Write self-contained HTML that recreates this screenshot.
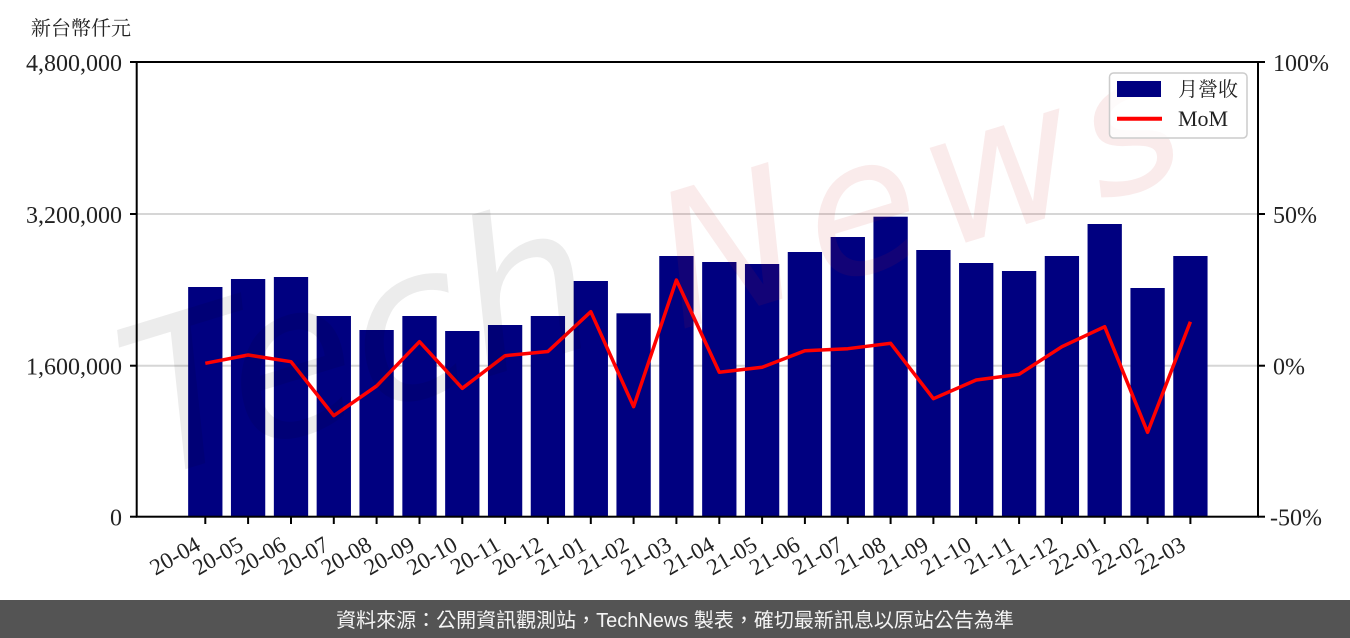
<!DOCTYPE html>
<html lang="zh-Hant"><head><meta charset="utf-8"><style>
html,body{margin:0;padding:0;background:#fff;}
svg{display:block;}
</style></head><body>
<svg width="1350" height="638" viewBox="0 0 1350 638" xmlns="http://www.w3.org/2000/svg" xml:lang="zh-Hant">
<rect x="0" y="0" width="1350" height="638" fill="#fff"/>
<!-- title -->
<text x="31" y="35" font-family="'Liberation Serif','Noto Serif CJK TC','Noto Serif CJK SC',serif" font-size="20" fill="#222">新台幣仟元</text>
<!-- grid -->
<line x1="137" y1="214" x2="1258" y2="214" stroke="#d6d6d6" stroke-width="2"/>
<line x1="137" y1="365.7" x2="1258" y2="365.7" stroke="#d6d6d6" stroke-width="2"/>
<!-- bars -->
<g fill="#000080">
<rect x="188.15" y="287" width="34.3" height="229.7"/>
<rect x="230.95" y="279" width="34.3" height="237.7"/>
<rect x="273.85" y="277" width="34.3" height="239.7"/>
<rect x="316.65" y="316" width="34.3" height="200.7"/>
<rect x="359.45" y="330" width="34.3" height="186.7"/>
<rect x="402.35" y="316" width="34.3" height="200.7"/>
<rect x="445.15" y="331" width="34.3" height="185.7"/>
<rect x="487.95" y="325" width="34.3" height="191.7"/>
<rect x="530.75" y="316" width="34.3" height="200.7"/>
<rect x="573.65" y="281" width="34.3" height="235.7"/>
<rect x="616.45" y="313.3" width="34.3" height="203.4"/>
<rect x="659.25" y="256" width="34.3" height="260.7"/>
<rect x="702.15" y="262" width="34.3" height="254.7"/>
<rect x="744.95" y="264" width="34.3" height="252.7"/>
<rect x="787.75" y="252" width="34.3" height="264.7"/>
<rect x="830.65" y="237" width="34.3" height="279.7"/>
<rect x="873.45" y="216.7" width="34.3" height="300"/>
<rect x="916.25" y="250" width="34.3" height="266.7"/>
<rect x="959.05" y="263" width="34.3" height="253.7"/>
<rect x="1001.95" y="271" width="34.3" height="245.7"/>
<rect x="1044.75" y="256" width="34.3" height="260.7"/>
<rect x="1087.55" y="224" width="34.3" height="292.7"/>
<rect x="1130.45" y="288" width="34.3" height="228.7"/>
<rect x="1173.25" y="256" width="34.3" height="260.7"/>
</g>
<!-- MoM line -->
<polyline fill="none" stroke="#ff0000" stroke-width="3.5" stroke-linejoin="round" stroke-linecap="butt"
points="205.3,363.3 248.1,355 291,361.7 333.8,415.7 376.6,386 419.5,341.7 462.3,388.3 505.1,355.7 547.9,351.5 590.8,311.7 633.6,406.7 676.4,280 719.3,372.3 762.1,367.3 804.9,350.7 847.8,348.7 890.6,343.3 933.4,398.7 976.2,380 1019.1,374.3 1061.9,346.7 1104.7,326.7 1147.6,432.3 1190.4,321.7"/>
<!-- watermark -->
<g font-family="'DejaVu Sans',sans-serif" font-style="oblique">
<text transform="translate(150,480) rotate(-17)" font-size="210" fill="rgba(0,0,0,0.075)">Tech</text>
<text transform="translate(680,330) rotate(-17)" font-size="185" letter-spacing="12" fill="rgba(200,30,30,0.09)">News</text>
</g>
<!-- spines -->
<rect x="136.7" y="62" width="1121.3" height="454.7" fill="none" stroke="#000" stroke-width="2"/>
<!-- ticks -->
<g stroke="#000" stroke-width="2">
<line x1="130" y1="62" x2="137" y2="62"/>
<line x1="130" y1="214" x2="137" y2="214"/>
<line x1="130" y1="365.7" x2="137" y2="365.7"/>
<line x1="130" y1="516.7" x2="137" y2="516.7"/>
<line x1="1258" y1="62" x2="1265" y2="62"/>
<line x1="1258" y1="214" x2="1265" y2="214"/>
<line x1="1258" y1="365.7" x2="1265" y2="365.7"/>
<line x1="1258" y1="516.7" x2="1265" y2="516.7"/>
<line x1="205.3" y1="517" x2="205.3" y2="524"/>
<line x1="248.1" y1="517" x2="248.1" y2="524"/>
<line x1="291" y1="517" x2="291" y2="524"/>
<line x1="333.8" y1="517" x2="333.8" y2="524"/>
<line x1="376.6" y1="517" x2="376.6" y2="524"/>
<line x1="419.5" y1="517" x2="419.5" y2="524"/>
<line x1="462.3" y1="517" x2="462.3" y2="524"/>
<line x1="505.1" y1="517" x2="505.1" y2="524"/>
<line x1="547.9" y1="517" x2="547.9" y2="524"/>
<line x1="590.8" y1="517" x2="590.8" y2="524"/>
<line x1="633.6" y1="517" x2="633.6" y2="524"/>
<line x1="676.4" y1="517" x2="676.4" y2="524"/>
<line x1="719.3" y1="517" x2="719.3" y2="524"/>
<line x1="762.1" y1="517" x2="762.1" y2="524"/>
<line x1="804.9" y1="517" x2="804.9" y2="524"/>
<line x1="847.8" y1="517" x2="847.8" y2="524"/>
<line x1="890.6" y1="517" x2="890.6" y2="524"/>
<line x1="933.4" y1="517" x2="933.4" y2="524"/>
<line x1="976.2" y1="517" x2="976.2" y2="524"/>
<line x1="1019.1" y1="517" x2="1019.1" y2="524"/>
<line x1="1061.9" y1="517" x2="1061.9" y2="524"/>
<line x1="1104.7" y1="517" x2="1104.7" y2="524"/>
<line x1="1147.6" y1="517" x2="1147.6" y2="524"/>
<line x1="1190.4" y1="517" x2="1190.4" y2="524"/>
</g>
<!-- y labels -->
<g font-family="'Liberation Serif',serif" font-size="24" fill="#222">
<text x="122" y="71" text-anchor="end">4,800,000</text>
<text x="122" y="223" text-anchor="end">3,200,000</text>
<text x="122" y="374.7" text-anchor="end">1,600,000</text>
<text x="122" y="525.7" text-anchor="end">0</text>
<text x="1273" y="71">100%</text>
<text x="1273" y="223">50%</text>
<text x="1273" y="374.7">0%</text>
<text x="1270" y="525.7">-50%</text>
</g>
<!-- x labels -->
<g font-family="'Liberation Serif',serif" font-size="23" fill="#222" text-anchor="end">
<text transform="translate(202,549) rotate(-30)">20-04</text>
<text transform="translate(244.8,549) rotate(-30)">20-05</text>
<text transform="translate(287.7,549) rotate(-30)">20-06</text>
<text transform="translate(330.5,549) rotate(-30)">20-07</text>
<text transform="translate(373.3,549) rotate(-30)">20-08</text>
<text transform="translate(416.2,549) rotate(-30)">20-09</text>
<text transform="translate(459,549) rotate(-30)">20-10</text>
<text transform="translate(501.8,549) rotate(-30)">20-11</text>
<text transform="translate(544.6,549) rotate(-30)">20-12</text>
<text transform="translate(587.5,549) rotate(-30)">21-01</text>
<text transform="translate(630.3,549) rotate(-30)">21-02</text>
<text transform="translate(673.1,549) rotate(-30)">21-03</text>
<text transform="translate(716,549) rotate(-30)">21-04</text>
<text transform="translate(758.8,549) rotate(-30)">21-05</text>
<text transform="translate(801.6,549) rotate(-30)">21-06</text>
<text transform="translate(844.5,549) rotate(-30)">21-07</text>
<text transform="translate(887.3,549) rotate(-30)">21-08</text>
<text transform="translate(930.1,549) rotate(-30)">21-09</text>
<text transform="translate(972.9,549) rotate(-30)">21-10</text>
<text transform="translate(1015.8,549) rotate(-30)">21-11</text>
<text transform="translate(1058.6,549) rotate(-30)">21-12</text>
<text transform="translate(1101.4,549) rotate(-30)">22-01</text>
<text transform="translate(1144.3,549) rotate(-30)">22-02</text>
<text transform="translate(1187.1,549) rotate(-30)">22-03</text>
</g>
<!-- legend -->
<rect x="1109.5" y="73" width="137.5" height="65" rx="4" ry="4" fill="rgba(255,255,255,0.8)" stroke="#cccccc" stroke-width="1.5"/>
<rect x="1117" y="81" width="44" height="16" fill="#000080"/>
<line x1="1117" y1="118.7" x2="1162" y2="118.7" stroke="#ff0000" stroke-width="4"/>
<text x="1178" y="96" font-family="'Liberation Serif','Noto Serif CJK TC','Noto Serif CJK SC',serif" font-size="20" fill="#222">月營收</text>
<text x="1178" y="126" font-family="'Liberation Serif',serif" font-size="22" fill="#222">MoM</text>
<!-- footer -->
<rect x="0" y="600" width="1350" height="38" fill="#545454"/>
<text x="675" y="627" text-anchor="middle" xml:lang="zh-Hant" font-family="'Liberation Sans','Noto Sans CJK TC',sans-serif" font-size="20" fill="#f5f5f5">資料來源：公開資訊觀測站，TechNews 製表，確切最新訊息以原站公告為準</text>
</svg>
</body></html>
